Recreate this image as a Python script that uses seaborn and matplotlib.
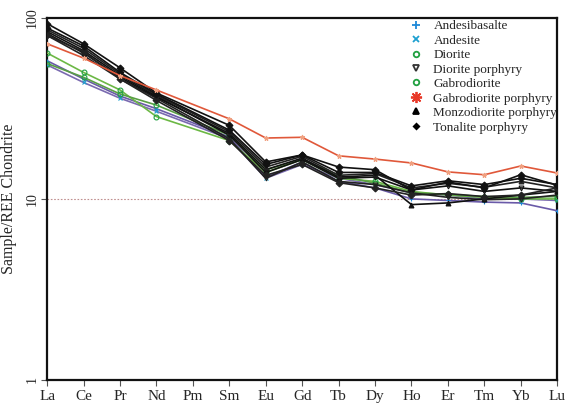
import numpy as np
import pandas as pd
import matplotlib
matplotlib.use("Agg")
import matplotlib.pyplot as plt
from matplotlib.lines import Line2D
import seaborn as sns

elements = ["La", "Ce", "Pr", "Nd", "Pm", "Sm", "Eu", "Gd", "Tb", "Dy", "Ho", "Er", "Tm", "Yb", "Lu"]
nan = np.nan

andesibasalte = [58, 46, 37, 31.5, nan, 22, 13.2, 16, 12.5, 11.5, 10.0, 9.8, 9.6, 9.5, 8.6]
andesite = [55, 44, 36, 30.5, nan, 21.5, 13.0, 15.5, 13.0, 12.0, 10.8, 10.5, 10.0, 10.0, 9.8]
diorite = [64, 50, 40, 28.5, nan, 21, 14.0, 16.5, 13.0, 12.5, 11.0, 10.5, 10.2, 10.0, 10.0]
gabrodiorite = [56, 47, 38, 33, nan, 22.5, 14.5, 16.5, 13.5, 12.2, 10.8, 10.6, 10.3, 10.2, 10.3]
gabrodiorite_porphyry = [72, 60, 48, 40, nan, 27.7, 21.7, 21.9, 17.3, 16.6, 15.8, 14.1, 13.6, 15.2, 13.9]
diorite_porphyry_1 = [80, 62, 46, 36, nan, 21.5, 13.0, 16.0, 12.5, 12.0, 10.8, 10.2, 9.9, 10.0, 10.5]
diorite_porphyry_2 = [84, 66, 48, 37, nan, 22.5, 14.0, 16.5, 13.0, 13.2, 11.2, 11.8, 11.0, 11.5, 11.0]
monzodiorite_porphyry_1 = [82, 64, 47, 36.5, nan, 23, 14.5, 16.8, 13.2, 13.5, 9.3, 9.5, 10.0, 10.5, 11.0]
monzodiorite_porphyry_2 = [86, 68, 49, 37.5, nan, 23.5, 15.0, 17.2, 13.5, 13.8, 11.5, 12.2, 11.6, 12.5, 11.5]
tonalite_porphyry_1 = [93, 72, 53, 38.5, nan, 25.5, 16.0, 17.5, 15.0, 14.5, 11.2, 12.4, 11.5, 13.6, 11.9]
tonalite_porphyry_2 = [80, 65, 46, 35, nan, 21, 13.5, 15.5, 12.3, 11.5, 10.5, 10.7, 10.3, 10.5, 11.5]
tonalite_porphyry_3 = [88, 70, 50, 38, nan, 24, 15.5, 17.5, 14.0, 14.0, 11.8, 12.6, 12.0, 13.0, 12.0]

samples = [
    ("Andesibasalte", andesibasalte, "#6a5aa8", "#1e88d8", "+", True),
    ("Andesite", andesite, "#7a6ab0", "#1ea0d0", "x", True),
    ("Diorite", diorite, "#6cb845", "#20a040", "o", False),
    ("Gabrodiorite", gabrodiorite, "#5a9f45", "#20a040", "o", False),
    ("Diorite porphyry", diorite_porphyry_1, "#222222", "#222222", "v", False),
    ("Diorite porphyry", diorite_porphyry_2, "#111111", "#111111", "v", False),
    ("Monzodiorite porphyry", monzodiorite_porphyry_1, "#111111", "#111111", "^", True),
    ("Monzodiorite porphyry", monzodiorite_porphyry_2, "#222222", "#222222", "^", True),
    ("Tonalite porphyry", tonalite_porphyry_1, "#111111", "#111111", "D", True),
    ("Tonalite porphyry", tonalite_porphyry_2, "#222222", "#222222", "D", True),
    ("Tonalite porphyry", tonalite_porphyry_3, "#111111", "#111111", "D", True),
    ("Gabrodiorite porphyry", gabrodiorite_porphyry, "#e0583a", "#f0a080", "*", True),
]

legend_items = [
    ("Andesibasalte", "+", "#1e88d8", True, 6),
    ("Andesite", "x", "#1ea0d0", True, 5),
    ("Diorite", "o", "#20a040", False, 4),
    ("Diorite porphyry", "v", "#333333", False, 5),
    ("Gabrodiorite", "o", "#20a040", False, 4),
    ("Gabrodiorite porphyry", (8, 2, 0), "#e83828", True, 8),
    ("Monzodiorite porphyry", "^", "#000000", True, 5),
    ("Tonalite porphyry", "D", "#000000", True, 2.8),
]

sns.set_theme(style="white")
plt.rcParams["font.family"] = ["Liberation Serif", "DejaVu Serif"]

fig = plt.figure(figsize=(5.68, 4.08), dpi=100)
ax = fig.add_axes([0.083, 0.069, 0.898, 0.887])

x_idx = np.arange(len(elements))
ax.axhline(10, color="#c09090", lw=0.8, ls=(0, (1.5, 1.5)), zorder=1)

for name, vals, lc, mc, mk, filled in samples:
    df = pd.DataFrame({"x": x_idx, "y": vals}).dropna()
    sns.lineplot(data=df, x="x", y="y", ax=ax, color=lc, lw=1.2, sort=False,
                 marker=mk, markersize=3.5,
                 markerfacecolor=(mc if filled else "none"), markeredgecolor=mc,
                 markeredgewidth=0.8, legend=False, zorder=3)

ax.set_yscale("log")
ax.set_ylim(1, 100)
ax.set_xlim(0, len(elements) - 1)
ax.set_xticks(x_idx)
ax.set_xticklabels(elements, fontsize=11)
ax.set_yticks([1, 10, 100])
ax.set_yticklabels(["1", "10", "100"], fontsize=10, rotation=90, va="center")
ax.yaxis.set_minor_locator(matplotlib.ticker.NullLocator())
ax.tick_params(axis="both", direction="out", length=4, width=0.8, color="#555555", left=True, bottom=True)
ax.tick_params(axis="y", pad=2)
ax.set_xlabel("")
ax.set_ylabel("Sample/REE Chondrite", fontsize=11.5)
ax.yaxis.set_label_coords(-0.06, 0.5)
for s in ax.spines.values():
    s.set_linewidth(1.6)
    s.set_color("#111111")

handles = []
for label, mk, col, filled, ms in legend_items:
    handles.append(Line2D([], [], ls="none", marker=mk, markersize=ms,
                          markerfacecolor=(col if filled else "none"), markeredgecolor=col,
                          markeredgewidth=1.3, label=label))
leg = ax.legend(handles=handles, loc="upper right", bbox_to_anchor=(1.018, 1.02), frameon=False,
                fontsize=9.5, handlelength=1.0, handletextpad=0.8, labelspacing=0.17, borderpad=0.2)

fig.savefig("out.png", dpi=100)
